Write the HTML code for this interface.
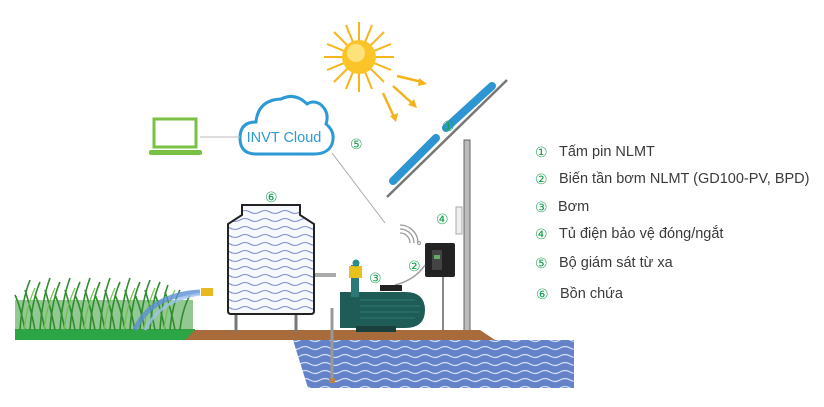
<!DOCTYPE html>
<html><head><meta charset="utf-8"><style>
html,body{margin:0;padding:0;background:#fff;}
svg{display:block}
.l{font-family:"Liberation Sans","DejaVu Sans",sans-serif;font-size:14.5px;fill:#3a3a3a}
.n{font-family:"DejaVu Sans",sans-serif;font-size:14px;fill:#1aa050}
</style></head><body>
<svg width="824" height="407" viewBox="0 0 824 407" xmlns="http://www.w3.org/2000/svg">
<defs>
<pattern id="wv" width="20" height="8" patternUnits="userSpaceOnUse">
<rect width="20" height="8" fill="#6382c8"/>
<path d="M0 4 Q5 1 10 4 T20 4" stroke="#d3def4" stroke-width="1.3" fill="none"/>
</pattern>
<pattern id="tw" width="20" height="8" patternUnits="userSpaceOnUse">
<rect width="20" height="8" fill="#f6f8fd"/>
<path d="M0 4 Q5 1 10 4 T20 4" stroke="#7f90c8" stroke-width="1.1" fill="none"/>
</pattern>
</defs>
<!-- sun -->
<g stroke="#f6b51a" stroke-width="2">
<line x1="359" y1="22" x2="359" y2="92"/><line x1="324" y1="57" x2="394" y2="57"/>
<line x1="334" y1="32" x2="384" y2="82"/><line x1="384" y1="32" x2="334" y2="82"/>
<line x1="346" y1="25" x2="372" y2="89"/><line x1="372" y1="25" x2="346" y2="89"/>
<line x1="327" y1="44" x2="391" y2="70"/><line x1="391" y1="44" x2="327" y2="70"/>
</g>
<circle cx="359" cy="57" r="17" fill="#fbc52a"/>
<circle cx="356" cy="53" r="9" fill="#fde27a"/>
<g stroke="#f5b21c" stroke-width="2.5" fill="#f5b21c">
<line x1="397" y1="76" x2="422" y2="82"/><polygon points="427,84 419,78 418,86" stroke="none"/>
<line x1="393" y1="86" x2="413" y2="104"/><polygon points="417,108 414,99 408,105" stroke="none"/>
<line x1="383" y1="93" x2="394" y2="117"/><polygon points="396,122 398,113 390,116" stroke="none"/>
</g>
<!-- panel -->
<line x1="387" y1="197" x2="507" y2="80" stroke="#777" stroke-width="2.5"/>
<line x1="393" y1="181" x2="436" y2="138" stroke="#2d96d2" stroke-width="8" stroke-linecap="round"/>
<line x1="446" y1="128" x2="492" y2="86" stroke="#2d96d2" stroke-width="8" stroke-linecap="round"/>
<text class="n" x="442" y="131">①</text>
<!-- pole -->
<rect x="464" y="140" width="6" height="192" fill="#bbb" stroke="#666" stroke-width="1"/>
<rect x="456" y="207" width="6" height="27" fill="#eee" stroke="#aaa" stroke-width="1"/>
<text class="n" x="436" y="224">④</text>
<!-- VFD -->
<line x1="443" y1="277" x2="443" y2="332" stroke="#888" stroke-width="2"/>
<rect x="425" y="243" width="30" height="34" rx="2" fill="#222"/>
<rect x="432" y="250" width="10" height="20" fill="#444"/>
<rect x="434" y="255" width="6" height="4" fill="#6a6"/>
<path d="M425 265 Q415 280 395 285" stroke="#999" fill="none" stroke-width="1.5"/>
<text class="n" x="408" y="271">②</text>
<!-- wifi -->
<g stroke="#999" fill="none" stroke-width="1.3">
<path d="M410 243 a10 10 0 0 0 -10 -10"/><path d="M414 243 a14 14 0 0 0 -14 -14"/><path d="M418 243 a18 18 0 0 0 -18 -18"/>
</g>
<circle cx="419" cy="243" r="1.5" fill="none" stroke="#999"/>
<line x1="332" y1="153" x2="385" y2="223" stroke="#aaa" stroke-width="1"/>
<text class="n" x="350" y="149">⑤</text>
<!-- cloud -->
<path d="M256 154 Q240 154 240 138 Q240 122 256 122 Q258 100 281 99 Q295 92 307 104 Q313 100 320 104 Q330 112 326 124 Q336 132 332 144 Q328 154 314 154 Z" fill="#fff" stroke="#2d9ad6" stroke-width="3"/>
<text x="284" y="142" text-anchor="middle" font-family="Liberation Sans,sans-serif" font-size="14.5" fill="#2d9ad6">INVT Cloud</text>
<line x1="200" y1="137" x2="240" y2="137" stroke="#bbb" stroke-width="1"/>
<!-- laptop -->
<rect x="154" y="119" width="42" height="28" fill="#fff" stroke="#7ac143" stroke-width="3"/>
<rect x="149" y="150" width="53" height="5" rx="2" fill="#7ac143"/>
<!-- ground -->
<rect x="15" y="329" width="180" height="11" fill="#2ba546"/>
<polygon points="185,340 195,330 480,330 495,340" fill="#a86b3c"/>
<polygon points="293,340 574,340 574,388 308,388" fill="url(#wv)"/>
<!-- grass -->
<rect x="15" y="300" width="178" height="30" fill="#3a9a38" opacity="0.55"/>
<g stroke="#2f8d2e" stroke-width="1.6" fill="none">
<path d="M20 330 Q22 300 30 280"/><path d="M30 330 Q32 300 40 282"/><path d="M40 330 Q42 300 50 278"/><path d="M50 330 Q52 300 60 282"/><path d="M60 330 Q62 300 70 278"/><path d="M70 330 Q72 300 80 282"/><path d="M80 330 Q82 300 90 278"/><path d="M90 330 Q92 300 100 282"/><path d="M100 330 Q102 300 110 278"/><path d="M110 330 Q112 300 120 282"/><path d="M120 330 Q122 300 130 278"/><path d="M130 330 Q132 300 140 282"/><path d="M140 330 Q142 300 150 280"/><path d="M150 330 Q152 300 160 282"/><path d="M160 330 Q162 300 168 285"/><path d="M170 330 Q172 305 180 290"/><path d="M180 330 Q182 310 190 295"/>
<path d="M25 330 Q20 305 15 295"/><path d="M35 330 Q30 305 25 290"/><path d="M45 330 Q40 305 35 295"/><path d="M55 330 Q50 305 45 290"/><path d="M65 330 Q60 305 55 295"/><path d="M75 330 Q70 305 65 290"/><path d="M85 330 Q80 305 75 295"/><path d="M95 330 Q90 305 85 290"/><path d="M105 330 Q100 305 95 295"/><path d="M115 330 Q110 305 105 290"/><path d="M125 330 Q120 305 115 295"/><path d="M135 330 Q130 305 125 290"/><path d="M145 330 Q140 305 135 295"/><path d="M155 330 Q150 305 145 290"/><path d="M165 330 Q160 305 155 295"/><path d="M175 330 Q170 305 165 292"/>
</g>
<g stroke="#6cc050" stroke-width="1.2" fill="none">
<path d="M24 330 Q27 305 35 288"/><path d="M44 330 Q47 305 55 288"/><path d="M64 330 Q67 305 75 288"/><path d="M84 330 Q87 305 95 288"/><path d="M104 330 Q107 305 115 288"/><path d="M124 330 Q127 305 135 288"/><path d="M144 330 Q147 305 155 288"/><path d="M164 330 Q167 305 175 290"/>
</g>
<path d="M200 292 Q150 295 135 330" stroke="#5d8fd6" stroke-width="5" fill="none" opacity="0.8"/>
<path d="M200 294 Q160 300 145 330" stroke="#9ec2ee" stroke-width="3" fill="none" opacity="0.8"/>
<rect x="201" y="288" width="12" height="8" fill="#e8b820"/>
<!-- tank -->
<line x1="236" y1="313" x2="236" y2="332" stroke="#777" stroke-width="3"/>
<line x1="296" y1="313" x2="296" y2="332" stroke="#777" stroke-width="3"/>
<line x1="300" y1="228" x2="308" y2="228" stroke="#aaa" stroke-width="3"/>
<polyline points="307,228 307,275 336,275" stroke="#aaa" stroke-width="4" fill="none"/>
<path d="M242 205 L300 205 L300 215 L314 224 L314 311 Q314 314 311 314 L231 314 Q228 314 228 311 L228 224 L242 215 Z" fill="url(#tw)" stroke="#222" stroke-width="2"/>
<text class="n" x="265" y="202">⑥</text>
<!-- pump -->
<line x1="332" y1="308" x2="332" y2="380" stroke="#999" stroke-width="3"/>
<rect x="329" y="378" width="6" height="5" fill="#b8864a"/>
<rect x="380" y="285" width="22" height="6" fill="#222"/>
<path d="M340 292 L405 292 Q425 292 425 310 Q425 328 405 328 L340 328 Z" fill="#1f5c58"/>
<g stroke="#2f7a74" stroke-width="1"><line x1="360" y1="300" x2="415" y2="300"/><line x1="360" y1="306" x2="420" y2="306"/><line x1="360" y1="312" x2="420" y2="312"/><line x1="360" y1="318" x2="415" y2="318"/></g>
<rect x="356" y="326" width="40" height="6" fill="#1a3f3c"/>
<rect x="351" y="265" width="8" height="32" fill="#2b7a78"/>
<rect x="349" y="266" width="13" height="12" fill="#e8c21c"/>
<circle cx="356" cy="263" r="3.5" fill="#2c8c8a"/>
<text class="n" x="369" y="283">③</text>
<!-- legend -->
<text class="n" x="535" y="157">①</text><text class="l" x="559" y="156">Tấm pin NLMT</text>
<text class="n" x="535" y="184">②</text><text class="l" x="559" y="183">Biến tần bơm NLMT (GD100-PV, BPD)</text>
<text class="n" x="535" y="212">③</text><text class="l" x="558" y="211">Bơm</text>
<text class="n" x="535" y="239">④</text><text class="l" x="559" y="238">Tủ điện bảo vệ đóng/ngắt</text>
<text class="n" x="535" y="268">⑤</text><text class="l" x="559" y="267">Bộ giám sát từ xa</text>
<text class="n" x="536" y="299">⑥</text><text class="l" x="560" y="298">Bồn chứa</text>
</svg>
</body></html>
